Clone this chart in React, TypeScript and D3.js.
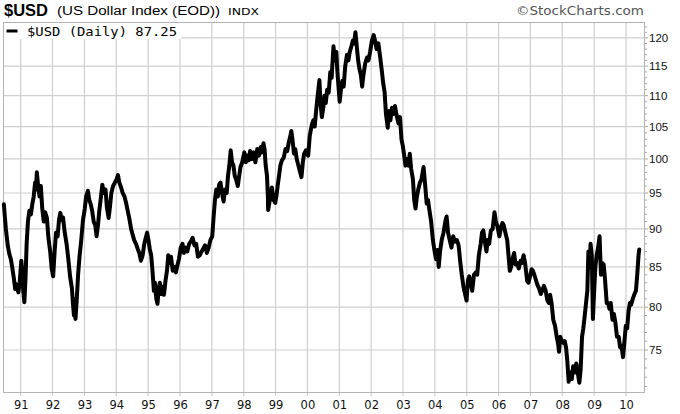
import React from "react";
import * as d3 from "d3";

type Pt = [string, number];

// $USD daily closes (date, index value)
const usd1990: Pt[] = [
  ["1990-06-22", 93.4], ["1990-07-01", 92.0], ["1990-07-15", 90.0], ["1990-08-05", 87.8],
  ["1990-08-25", 86.6], ["1990-09-10", 86.0], ["1990-09-28", 84.8], ["1990-10-15", 83.5],
  ["1990-10-30", 82.2], ["1990-11-15", 82.8], ["1990-12-05", 81.8], ["1990-12-20", 83.0],
];
const usd1991: Pt[] = [
  ["1991-01-08", 85.8], ["1991-01-18", 84.5], ["1991-01-30", 82.0], ["1991-02-12", 80.6],
  ["1991-02-25", 83.5], ["1991-03-10", 88.0], ["1991-03-25", 91.0], ["1991-04-10", 92.5],
  ["1991-04-28", 92.0], ["1991-05-15", 93.5], ["1991-05-30", 94.5], ["1991-06-15", 96.5],
  ["1991-06-25", 95.5], ["1991-07-05", 98.0], ["1991-07-20", 96.0], ["1991-08-05", 94.5],
  ["1991-08-20", 96.0], ["1991-09-05", 92.8], ["1991-09-22", 91.0], ["1991-10-08", 92.3],
  ["1991-10-28", 91.5], ["1991-11-15", 88.8], ["1991-12-05", 87.0], ["1991-12-22", 84.8],
];
const usd1992: Pt[] = [
  ["1992-01-08", 83.8], ["1992-01-25", 87.0], ["1992-02-10", 89.5], ["1992-02-28", 89.0],
  ["1992-03-15", 91.2], ["1992-03-30", 92.2], ["1992-04-15", 91.2], ["1992-04-30", 91.6],
  ["1992-05-20", 89.5], ["1992-06-10", 88.0], ["1992-06-30", 86.0], ["1992-07-20", 83.8],
  ["1992-08-10", 82.3], ["1992-08-25", 80.0], ["1992-09-03", 79.0], ["1992-09-10", 81.0],
  ["1992-09-20", 78.6], ["1992-10-05", 81.0], ["1992-10-20", 84.0], ["1992-11-05", 86.3],
  ["1992-11-25", 88.5], ["1992-12-15", 91.2],
];
const usd1993: Pt[] = [
  ["1993-01-05", 92.8], ["1993-01-20", 94.5], ["1993-02-10", 95.3], ["1993-02-25", 94.0],
  ["1993-03-12", 93.5], ["1993-03-30", 92.5], ["1993-04-17", 91.0], ["1993-05-05", 90.5],
  ["1993-05-20", 89.0], ["1993-06-05", 90.5], ["1993-06-20", 92.5], ["1993-07-05", 94.0],
  ["1993-07-25", 96.2], ["1993-08-12", 95.0], ["1993-08-31", 95.5], ["1993-09-15", 93.0],
  ["1993-10-05", 91.5], ["1993-10-20", 93.0], ["1993-11-05", 95.0], ["1993-11-25", 96.0],
  ["1993-12-15", 96.5],
];
const usd1994: Pt[] = [
  ["1994-01-05", 97.0], ["1994-01-20", 97.6], ["1994-02-05", 96.5], ["1994-02-25", 95.8],
  ["1994-03-15", 95.0], ["1994-04-05", 94.5], ["1994-04-25", 93.5], ["1994-05-15", 92.3],
  ["1994-06-01", 91.3], ["1994-06-20", 90.0], ["1994-07-08", 89.2], ["1994-07-25", 88.5],
  ["1994-08-15", 88.0], ["1994-09-05", 87.3], ["1994-09-22", 86.8], ["1994-10-10", 85.8],
  ["1994-10-30", 86.5], ["1994-11-18", 88.0], ["1994-12-05", 88.8], ["1994-12-20", 89.5],
];
const usd1995: Pt[] = [
  ["1995-01-05", 88.5], ["1995-01-20", 87.3], ["1995-02-05", 86.5], ["1995-02-20", 84.5],
  ["1995-03-08", 82.0], ["1995-03-20", 83.0], ["1995-04-05", 81.0], ["1995-04-18", 80.4],
  ["1995-05-01", 82.0], ["1995-05-15", 83.0], ["1995-06-01", 81.6], ["1995-06-15", 82.5],
  ["1995-07-01", 81.5], ["1995-07-20", 83.3], ["1995-08-05", 84.5], ["1995-08-20", 86.5],
  ["1995-09-05", 85.5], ["1995-09-20", 86.3], ["1995-10-10", 84.5], ["1995-10-30", 85.0],
  ["1995-11-15", 84.3], ["1995-12-05", 85.3], ["1995-12-20", 86.0],
];
const usd1996: Pt[] = [
  ["1996-01-10", 87.5], ["1996-01-30", 88.0], ["1996-02-15", 86.8], ["1996-03-05", 87.5],
  ["1996-03-25", 87.0], ["1996-04-15", 88.0], ["1996-05-05", 88.3], ["1996-05-25", 88.8],
  ["1996-06-15", 87.8], ["1996-07-05", 88.0], ["1996-07-25", 86.3], ["1996-08-15", 86.5],
  ["1996-09-05", 87.0], ["1996-09-25", 87.4], ["1996-10-15", 87.8], ["1996-11-05", 86.8],
  ["1996-11-25", 87.5], ["1996-12-15", 88.5],
];
const usd1997: Pt[] = [
  ["1997-01-05", 89.0], ["1997-01-20", 91.5], ["1997-02-05", 94.0], ["1997-02-20", 95.5],
  ["1997-03-10", 94.5], ["1997-03-25", 96.2], ["1997-04-10", 96.5], ["1997-04-30", 94.8],
  ["1997-05-15", 93.8], ["1997-06-01", 95.5], ["1997-06-20", 95.0], ["1997-07-05", 97.5],
  ["1997-07-20", 99.0], ["1997-08-05", 101.3], ["1997-08-20", 99.5], ["1997-09-05", 99.0],
  ["1997-09-20", 97.5], ["1997-10-05", 97.0], ["1997-10-25", 96.0], ["1997-11-10", 97.5],
  ["1997-11-25", 98.8], ["1997-12-15", 99.5],
];
const usd1998: Pt[] = [
  ["1998-01-08", 101.0], ["1998-01-25", 99.5], ["1998-02-10", 100.5], ["1998-02-28", 99.8],
  ["1998-03-15", 101.2], ["1998-04-05", 100.0], ["1998-04-25", 101.0], ["1998-05-15", 99.5],
  ["1998-06-05", 101.5], ["1998-06-25", 100.5], ["1998-07-15", 101.8], ["1998-07-30", 101.0],
  ["1998-08-15", 102.4], ["1998-08-28", 101.5], ["1998-09-10", 99.0], ["1998-09-25", 97.5],
  ["1998-10-05", 94.5], ["1998-10-08", 92.6], ["1998-10-20", 93.5], ["1998-11-05", 94.5],
  ["1998-11-20", 95.8], ["1998-12-10", 94.0], ["1998-12-28", 93.6],
];
const usd1999: Pt[] = [
  ["1999-01-10", 94.5], ["1999-01-25", 96.0], ["1999-02-10", 97.5], ["1999-02-25", 99.0],
  ["1999-03-15", 99.8], ["1999-04-05", 100.2], ["1999-04-25", 101.5], ["1999-05-15", 101.2],
  ["1999-06-01", 102.5], ["1999-06-20", 103.5], ["1999-07-01", 104.3], ["1999-07-15", 102.8],
  ["1999-08-01", 100.8], ["1999-08-15", 101.5], ["1999-09-01", 100.0], ["1999-09-20", 99.0],
  ["1999-10-10", 98.0], ["1999-10-25", 97.3], ["1999-11-10", 99.5], ["1999-11-25", 100.8],
  ["1999-12-15", 101.3],
];
const usd2000: Pt[] = [
  ["2000-01-10", 100.5], ["2000-01-28", 103.5], ["2000-02-10", 104.5], ["2000-02-25", 105.5],
  ["2000-03-10", 106.0], ["2000-03-25", 105.0], ["2000-04-10", 107.5], ["2000-04-28", 110.0],
  ["2000-05-18", 112.6], ["2000-06-01", 108.5], ["2000-06-15", 106.5], ["2000-07-01", 108.0],
  ["2000-07-15", 110.0], ["2000-07-30", 108.8], ["2000-08-15", 111.0], ["2000-09-01", 110.5],
  ["2000-09-20", 114.0], ["2000-10-05", 113.0], ["2000-10-26", 118.5], ["2000-11-10", 116.0],
  ["2000-11-28", 117.5], ["2000-12-10", 114.0], ["2000-12-28", 110.5],
];
const usd2001: Pt[] = [
  ["2001-01-05", 109.0], ["2001-01-20", 111.0], ["2001-02-05", 112.5], ["2001-02-20", 111.5],
  ["2001-03-10", 115.0], ["2001-03-30", 117.0], ["2001-04-15", 116.0], ["2001-05-01", 117.5],
  ["2001-05-20", 118.5], ["2001-06-05", 119.5], ["2001-06-20", 119.0], ["2001-07-05", 121.0],
  ["2001-07-20", 118.5], ["2001-08-05", 116.0], ["2001-08-20", 114.5], ["2001-09-05", 113.5],
  ["2001-09-20", 111.5], ["2001-10-05", 113.5], ["2001-10-25", 115.5], ["2001-11-15", 116.5],
  ["2001-12-01", 116.0], ["2001-12-20", 117.5],
];
const usd2002: Pt[] = [
  ["2002-01-10", 119.5], ["2002-01-30", 120.5], ["2002-02-15", 119.5], ["2002-03-05", 118.0],
  ["2002-03-25", 119.0], ["2002-04-15", 116.5], ["2002-05-01", 114.5], ["2002-05-20", 112.0],
  ["2002-06-05", 110.5], ["2002-06-20", 107.0], ["2002-07-10", 104.8], ["2002-07-25", 107.5],
  ["2002-08-10", 106.0], ["2002-08-28", 108.0], ["2002-09-15", 107.0], ["2002-10-01", 108.3],
  ["2002-10-20", 106.8], ["2002-11-10", 105.5], ["2002-11-28", 106.5], ["2002-12-15", 103.0],
  ["2002-12-30", 102.0],
];
const usd2003: Pt[] = [
  ["2003-01-15", 100.5], ["2003-01-30", 99.0], ["2003-02-15", 100.0], ["2003-03-05", 99.0],
  ["2003-03-20", 100.8], ["2003-04-05", 98.5], ["2003-04-25", 97.0], ["2003-05-10", 94.0],
  ["2003-05-25", 92.8], ["2003-06-10", 94.5], ["2003-06-25", 95.5], ["2003-07-15", 96.5],
  ["2003-08-01", 97.0], ["2003-08-25", 98.8], ["2003-09-10", 96.5], ["2003-09-30", 93.5],
  ["2003-10-15", 94.0], ["2003-11-01", 92.5], ["2003-11-20", 91.0], ["2003-12-10", 88.5],
  ["2003-12-30", 87.0],
];
const usd2004: Pt[] = [
  ["2004-01-15", 86.0], ["2004-01-30", 87.2], ["2004-02-15", 85.0], ["2004-03-01", 87.0],
  ["2004-03-20", 88.5], ["2004-04-10", 89.5], ["2004-05-01", 91.0], ["2004-05-15", 91.7],
  ["2004-06-01", 89.5], ["2004-06-20", 88.5], ["2004-07-10", 87.5], ["2004-07-30", 89.0],
  ["2004-08-20", 88.3], ["2004-09-10", 88.5], ["2004-09-30", 87.8], ["2004-10-20", 85.5],
  ["2004-11-05", 84.0], ["2004-11-25", 82.5], ["2004-12-15", 81.5], ["2004-12-30", 80.8],
];
const usd2005: Pt[] = [
  ["2005-01-15", 83.3], ["2005-01-30", 83.8], ["2005-02-15", 83.0], ["2005-03-05", 82.0],
  ["2005-03-25", 84.0], ["2005-04-15", 84.3], ["2005-05-01", 84.0], ["2005-05-20", 86.5],
  ["2005-06-10", 88.0], ["2005-06-25", 89.5], ["2005-07-10", 89.8], ["2005-07-25", 88.5],
  ["2005-08-15", 87.0], ["2005-08-30", 88.5], ["2005-09-15", 88.0], ["2005-10-05", 89.8],
  ["2005-10-25", 90.0], ["2005-11-15", 92.3], ["2005-12-01", 91.0], ["2005-12-20", 90.3],
];
const usd2006: Pt[] = [
  ["2006-01-10", 89.0], ["2006-01-30", 90.3], ["2006-02-15", 90.8], ["2006-03-01", 90.5],
  ["2006-03-20", 89.5], ["2006-04-10", 88.5], ["2006-04-25", 86.5], ["2006-05-10", 84.5],
  ["2006-05-25", 85.0], ["2006-06-10", 86.0], ["2006-06-28", 86.8], ["2006-07-15", 85.3],
  ["2006-08-01", 85.5], ["2006-08-20", 84.8], ["2006-09-10", 85.8], ["2006-09-25", 85.5],
  ["2006-10-15", 86.5], ["2006-11-01", 85.5], ["2006-11-25", 83.2], ["2006-12-10", 83.0],
  ["2006-12-28", 83.8],
];
const usd2007: Pt[] = [
  ["2007-01-15", 84.7], ["2007-01-30", 84.5], ["2007-02-15", 84.0], ["2007-03-01", 83.5],
  ["2007-03-20", 82.8], ["2007-04-10", 82.3], ["2007-04-30", 81.6], ["2007-05-15", 82.0],
  ["2007-06-05", 82.6], ["2007-06-25", 82.0], ["2007-07-15", 80.8], ["2007-08-01", 80.5],
  ["2007-08-15", 81.5], ["2007-09-01", 80.5], ["2007-09-20", 78.5], ["2007-10-10", 77.8],
  ["2007-10-30", 76.5], ["2007-11-15", 75.7], ["2007-11-25", 74.8], ["2007-12-10", 76.5],
  ["2007-12-28", 76.0],
];
const usd2008: Pt[] = [
  ["2008-01-15", 75.8], ["2008-01-30", 76.0], ["2008-02-15", 75.2], ["2008-02-28", 73.8],
  ["2008-03-15", 71.5], ["2008-04-01", 72.5], ["2008-04-20", 71.8], ["2008-05-05", 73.2],
  ["2008-05-25", 72.5], ["2008-06-10", 73.5], ["2008-06-25", 72.6], ["2008-07-15", 71.4],
  ["2008-07-30", 72.8], ["2008-08-15", 76.5], ["2008-08-30", 77.5], ["2008-09-15", 79.0],
  ["2008-09-30", 80.5], ["2008-10-15", 82.0], ["2008-10-27", 87.0], ["2008-11-10", 85.0],
  ["2008-11-21", 88.0], ["2008-12-05", 86.5], ["2008-12-18", 78.6], ["2008-12-30", 81.5],
];
const usd2009: Pt[] = [
  ["2009-01-15", 85.0], ["2009-01-30", 86.5], ["2009-02-15", 87.5], ["2009-03-04", 89.0],
  ["2009-03-20", 84.0], ["2009-04-05", 85.5], ["2009-04-20", 85.3], ["2009-05-05", 83.5],
  ["2009-05-25", 80.5], ["2009-06-10", 80.5], ["2009-06-25", 79.8], ["2009-07-10", 80.5],
  ["2009-07-30", 78.5], ["2009-08-15", 79.2], ["2009-09-01", 78.2], ["2009-09-20", 76.5],
  ["2009-10-10", 76.5], ["2009-10-25", 75.3], ["2009-11-10", 75.5], ["2009-11-28", 74.2],
  ["2009-12-10", 75.5], ["2009-12-30", 77.8],
];
const usd2010: Pt[] = [
  ["2010-01-15", 77.5], ["2010-01-30", 79.5], ["2010-02-15", 80.5], ["2010-03-01", 80.3],
  ["2010-03-20", 81.0], ["2010-04-05", 81.5], ["2010-04-25", 82.0], ["2010-05-10", 84.0],
  ["2010-05-25", 86.5], ["2010-06-02", 87.25],
];

const yearLabels = ["91", "92", "93", "94", "95", "96", "97", "98", "99", "00",
  "01", "02", "03", "04", "05", "06", "07", "08", "09", "10"];
const priceTicks = [75, 80, 85, 90, 95, 100, 105, 110, 115, 120];

const titleText = "$USD";
const subtitleText = "(US Dollar Index (EOD))";
const exchangeText = "INDX";
const creditText = "\u00A9StockCharts.com";
const legendText = "$USD (Daily) 87.25";

const W = 680;
const H = 414;
const L = 3, R = 645, T = 22, B = 393;

export default function App() {
  const parse = d3.timeParse("%Y-%m-%d");
  const series = [
    usd1990, usd1991, usd1992, usd1993, usd1994, usd1995, usd1996, usd1997,
    usd1998, usd1999, usd2000, usd2001, usd2002, usd2003, usd2004, usd2005,
    usd2006, usd2007, usd2008, usd2009, usd2010,
  ].flat().map(([d, v]) => ({ date: parse(d) as Date, value: v }));

  const x = d3.scaleTime()
    .domain([new Date(1990, 5, 12), new Date(2010, 7, 7)])
    .range([L, R]);
  const y = d3.scaleLog().domain([70.3, 122.9]).range([B, T]);

  const line = d3.line<{ date: Date; value: number }>()
    .x((d) => x(d.date))
    .y((d) => y(d.value));

  const yearDates = yearLabels.map((s) => {
    const n = +s;
    return new Date(n > 50 ? 1900 + n : 2000 + n, 0, 1);
  });

  const minor = d3.range(71, 123);

  return (
    <svg width={W} height={H} style={{ position: "absolute", left: 0, top: 0, background: "#fff" }}
      xmlns="http://www.w3.org/2000/svg">
      <rect x={0} y={0} width={W} height={H} fill="#fff" />
      {/* grid */}
      <g stroke="#cfcfcf" strokeWidth={1.2}>
        {priceTicks.map((p) => (
          <line key={"h" + p} x1={L} x2={R} y1={y(p)} y2={y(p)} />
        ))}
        {yearDates.map((d, i) => (
          <line key={"v" + i} x1={x(d)} x2={x(d)} y1={T} y2={B + 3} />
        ))}
      </g>
      {/* frame */}
      <rect x={L + 0.5} y={T + 0.5} width={R - L - 1} height={B - T - 1} fill="none" stroke="#b4b4b4" strokeWidth={1} />
      {/* right minor ticks */}
      <g stroke="#a8a8a8" strokeWidth={1}>
        {minor.map((m) => (
          <line key={"m" + m} x1={R} x2={R + (m % 5 === 0 ? 3 : 2)} y1={y(m)} y2={y(m)} />
        ))}
      </g>
      {/* price line */}
      <path d={line(series) || ""} fill="none" stroke="#000" strokeWidth={4}
        strokeLinejoin="round" strokeLinecap="round" />
      {/* legend */}
      <rect x={L + 1} y={T + 1} width={177} height={16} fill="#fff" />
      <line x1={6.5} x2={17.5} y1={31} y2={31} stroke="#000" strokeWidth={3} />
      <text x={27} y={35.5} fontFamily="'DejaVu Sans Mono', monospace" fontSize={13}
        textLength={150} lengthAdjust="spacingAndGlyphs" fill="#000">{legendText}</text>
      {/* y labels */}
      <g fontFamily="'Liberation Sans', Arial, sans-serif" fontSize={11.5} fill="#111">
        {priceTicks.map((p) => (
          <text key={"yl" + p} x={649} y={y(p)} dy="0.36em">{p}</text>
        ))}
      </g>
      {/* x labels */}
      <g fontFamily="'DejaVu Sans', Verdana, sans-serif" fontSize={11.5} fill="#111" textAnchor="middle">
        {yearDates.map((d, i) => (
          <text key={"xl" + i} x={x(d) + 0.5} y={409}>{yearLabels[i]}</text>
        ))}
      </g>
      {/* title */}
      <text x={4} y={15.5} fontFamily="'Liberation Sans', Arial, sans-serif" fontWeight="bold"
        fontSize={16.5} fill="#000">{titleText}</text>
      <text x={57} y={15} fontFamily="'Liberation Sans', Arial, sans-serif" fontSize={12.5}
        textLength={163} lengthAdjust="spacingAndGlyphs" fill="#000">{subtitleText}</text>
      <text x={228} y={15} fontFamily="'DejaVu Sans', Verdana, sans-serif" fontSize={9.5}
        textLength={31} lengthAdjust="spacingAndGlyphs" fill="#000">{exchangeText}</text>
      <text x={644} y={14.5} textAnchor="end" fontFamily="'DejaVu Sans', Verdana, sans-serif"
        fontSize={12.5} textLength={128} lengthAdjust="spacingAndGlyphs" fill="#555">{creditText}</text>
    </svg>
  );
}
